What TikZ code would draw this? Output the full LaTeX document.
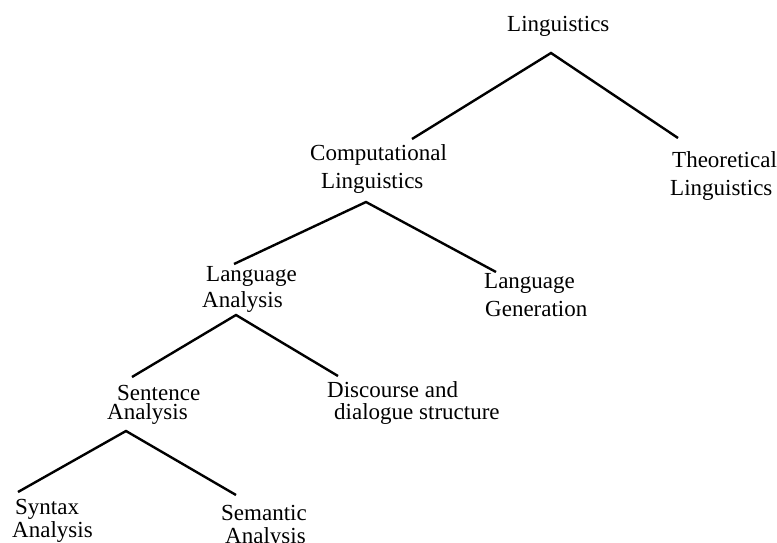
\documentclass[tikz,border=0pt]{standalone}
\usepackage{fontspec}
\setmainfont{Liberation Serif}
\begin{document}
\begin{tikzpicture}[x=1pt,y=-1pt,
  lbl/.style={anchor=base west,inner sep=0pt,font=\fontsize{23}{27}\selectfont},
  edge/.style={line width=2.4pt}]
\useasboundingbox (0,0) rectangle (777,543);
% labels
\node[lbl] (root)  at (507,32)   {Linguistics};
\node[lbl] (compA) at (310,160)  {Computational};
\node[lbl] (compB) at (321,188)  {Linguistics};
\node[lbl] (theoA) at (672,167)  {Theoretical};
\node[lbl] (theoB) at (670,195)  {Linguistics};
\node[lbl] (lanA)  at (206,281)  {Language};
\node[lbl] (lanB)  at (202,307)  {Analysis};
\node[lbl] (genA)  at (484,288)  {Language};
\node[lbl] (genB)  at (485,316)  {Generation};
\node[lbl] (senA)  at (117,400)  {Sentence};
\node[lbl] (senB)  at (107,419)  {Analysis};
\node[lbl] (disA)  at (327,397)  {Discourse and};
\node[lbl] (disB)  at (334,419)  {dialogue structure};
\node[lbl] (synA)  at (15,514)   {Syntax};
\node[lbl] (synB)  at (12,537)   {Analysis};
\node[lbl] (semA)  at (221,520)  {Semantic};
\node[lbl] (semB)  at (225,543)  {Analysis};
% connector points
\coordinate (rootApex) at (551,53);
\coordinate (compTop)  at (412,139);
\coordinate (theoTop)  at (678,138);
\coordinate (compApex) at (366,202);
\coordinate (lanTop)   at (234,264);
\coordinate (genTop)   at (496,272);
\coordinate (lanApex)  at (236,315);
\coordinate (senTop)   at (132,377);
\coordinate (disTop)   at (338,376);
\coordinate (senApex)  at (126,431);
\coordinate (synTop)   at (18,492);
\coordinate (semTop)   at (236,495);
% connectors
\draw[edge] (compTop) -- (rootApex) -- (theoTop);
\draw[edge] (lanTop) -- (compApex) -- (genTop);
\draw[edge] (senTop) -- (lanApex) -- (disTop);
\draw[edge] (synTop) -- (senApex) -- (semTop);
\end{tikzpicture}
\end{document}
